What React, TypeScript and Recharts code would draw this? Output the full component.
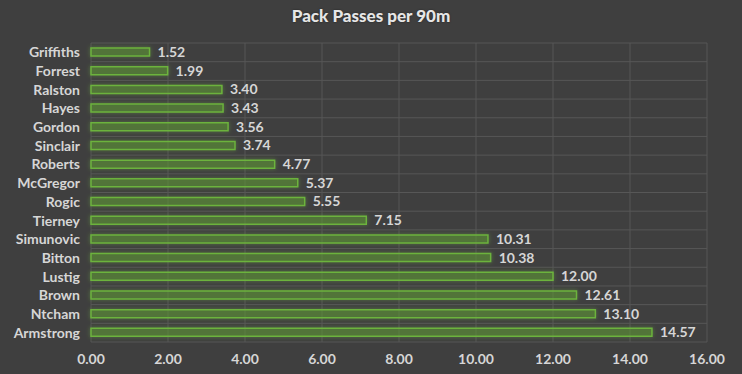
import React from 'react';
import {
  BarChart,
  Bar,
  XAxis,
  YAxis,
  CartesianGrid,
  LabelList,
} from 'recharts';

const players = [
  'Griffiths', 'Forrest', 'Ralston', 'Hayes', 'Gordon', 'Sinclair', 'Roberts', 'McGregor',
  'Rogic', 'Tierney', 'Simunovic', 'Bitton', 'Lustig', 'Brown', 'Ntcham', 'Armstrong',
];
const passes = [1.52, 1.99, 3.4, 3.43, 3.56, 3.74, 4.77, 5.37, 5.55, 7.15, 10.31, 10.38, 12.0, 12.61, 13.1, 14.57];
const xTicks = [0, 2, 4, 6, 8, 10, 12, 14, 16];

const data = players.map((name, i) => ({ name, value: passes[i] }));

const FONT = 'Lato, "Open Sans", sans-serif';
const TEXT = '#d6d6d6';

export default function App() {
  return (
    <div
      style={{
        position: 'absolute',
        left: 0,
        top: 0,
        width: 742,
        height: 374,
        background: '#3f3f3f',
        fontFamily: FONT,
      }}
    >
      <div
        style={{
          position: 'absolute',
          top: 5,
          width: 742,
          textAlign: 'center',
          color: '#e6e6e6',
          fontWeight: 900,
          fontSize: 17,
          textShadow: '0 0 2px rgba(0,0,0,0.5)',
        }}
      >
        Pack Passes per 90m
      </div>
      <BarChart
        width={742}
        height={374}
        data={data}
        layout="vertical"
        margin={{ top: 43, right: 35, bottom: 2, left: 0 }}
        barSize={8}
      >
        <defs>
          <filter id="glow" x="-20%" y="-100%" width="140%" height="300%">
            <feDropShadow dx="0" dy="0" stdDeviation="2" floodColor="#7ad13f" floodOpacity="0.45" />
          </filter>
        </defs>
        <CartesianGrid
          stroke="#575757"
          horizontalCoordinatesGenerator={({ offset }: any) =>
            Array.from({ length: players.length + 1 }, (_, i) => offset.top + (i * offset.height) / players.length)
          }
        />
        <XAxis
          type="number"
          domain={[0, 16]}
          ticks={xTicks}
          height={30}
          tickFormatter={(v: number) => v.toFixed(2)}
          axisLine={false}
          tickLine={false}
          tickSize={0}
          tickMargin={12}
          tick={{ fill: TEXT, fontSize: 14, fontWeight: 700, fontFamily: FONT }}
          interval={0}
        />
        <YAxis
          type="category"
          dataKey="name"
          width={91}
          axisLine={false}
          tickLine={false}
          tickSize={0}
          tickMargin={11}
          interval={0}
          tick={{ fill: TEXT, fontSize: 14, fontWeight: 700, fontFamily: FONT }}
        />
        <Bar
          dataKey="value"
          fill="rgba(85,135,45,0.45)"
          stroke="#6cb33d"
          strokeWidth={1.5}
          filter="url(#glow)"
          isAnimationActive={false}
        >
          <LabelList
            dataKey="value"
            position="right"
            offset={8}
            formatter={(v: any) => Number(v).toFixed(2)}
            fill={TEXT}
            style={{ fontSize: 14, fontWeight: 700, fontFamily: FONT }}
          />
        </Bar>
      </BarChart>
    </div>
  );
}
